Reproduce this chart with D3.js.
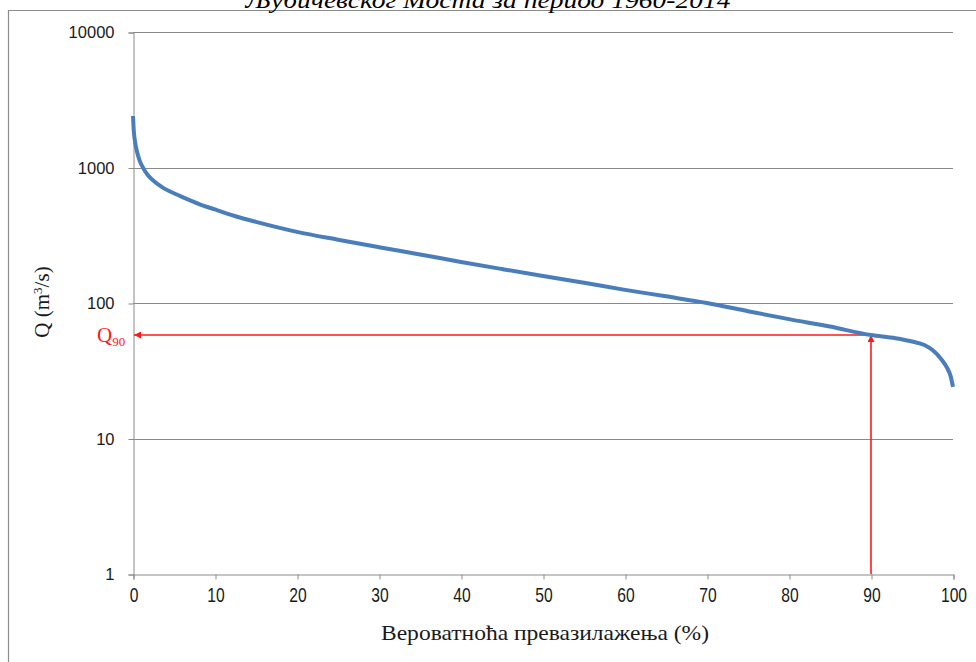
<!DOCTYPE html>
<html>
<head>
<meta charset="utf-8">
<script src="https://cdn.jsdelivr.net/npm/d3@7/dist/d3.min.js"></script>
<style>
  html, body { margin: 0; padding: 0; background: #fff; }
  svg { display: block; }
</style>
</head>
<body>
<svg id="chart" width="976" height="662"></svg>
<script>
// Flow duration curve: exceedance probability (%) vs discharge Q (m3/s)
const exceedance = [0, 0.1, 0.25, 0.5, 0.8, 1.25, 1.8, 2.5, 3.5, 5, 6.6, 8, 10, 12.5, 15, 20, 25, 30, 35, 40, 45, 50, 55, 60, 65, 70, 75, 80, 85, 90, 93, 95, 96.5, 97.5, 98.5, 99.3, 99.7, 100];
const discharge = [2400, 1850, 1550, 1300, 1130, 990, 880, 800, 720, 645, 585, 540, 490, 437, 397, 335, 293, 258, 228, 201, 178, 158, 141, 125, 112, 100, 87, 76, 67, 58, 55, 52, 49, 45, 39, 33, 29, 24];

const xTicks = [0, 10, 20, 30, 40, 50, 60, 70, 80, 90, 100];
const yTicks = [1, 10, 100, 1000, 10000];

const q90Pct = 90;
const q90Value = 58;

const titleText = "Љубичевског Моста за период 1960-2014";
const xTitle = "Вероватноћа превазилажења (%)";

const svg = d3.select("#chart");
const W = 976, H = 662;
const plot = { left: 133, right: 953, top: 32, bottom: 574 };

const x = d3.scaleLinear().domain([0, 100]).range([plot.left, plot.right]);
const y = d3.scaleLog().domain([1, 10000]).range([plot.bottom, plot.top]);

const red = "#ff1a1a";
const gridCol = "#8a8a8a";

// outer frame
svg.append("path")
  .attr("d", `M8.5,${H} L8.5,10.5 L${W},10.5`)
  .attr("fill", "none").attr("stroke", "#8c8c8c").attr("stroke-width", 1.2);

// title (its upper part runs off the top edge)
svg.append("text")
  .attr("x", 488).attr("y", 8)
  .attr("text-anchor", "middle")
  .attr("font-family", "'Liberation Serif', 'DejaVu Serif', serif")
  .attr("font-style", "italic")
  .attr("font-size", 24)
  .attr("textLength", 485).attr("lengthAdjust", "spacingAndGlyphs")
  .text(titleText);

// horizontal gridlines
svg.append("g").selectAll("line")
  .data(yTicks.filter(d => d > 1))
  .join("line")
  .attr("x1", plot.left).attr("x2", plot.right)
  .attr("y1", d => Math.round(y(d)) + 0.5).attr("y2", d => Math.round(y(d)) + 0.5)
  .attr("stroke", gridCol).attr("stroke-width", 1);

// y axis
const yAxis = d3.axisLeft(y).tickValues(yTicks).tickFormat(d3.format("d")).tickSize(5).tickPadding(14);
const gy = svg.append("g").attr("transform", `translate(${plot.left + 0.5},0.5)`).call(yAxis);
gy.select(".domain").attr("stroke", gridCol);
gy.selectAll(".tick line").attr("stroke", gridCol);
gy.selectAll(".tick text")
  .attr("font-family", "'Liberation Sans', Arial, sans-serif")
  .attr("font-size", 16.5).attr("fill", "#1a1a1a");

// x axis
const xAxis = d3.axisBottom(x).tickValues(xTicks).tickFormat(d3.format("d")).tickSize(5).tickPadding(9);
const gx = svg.append("g").attr("transform", `translate(0.5,${plot.bottom + 0.5})`).call(xAxis);
gx.select(".domain").attr("stroke", gridCol);
gx.selectAll(".tick line").attr("stroke", gridCol);
gx.selectAll(".tick text")
  .attr("font-family", "'Liberation Sans', Arial, sans-serif")
  .attr("font-size", 17).attr("fill", "#1a1a1a")
  .attr("transform", "scale(0.92,1.15)")
  .each(function () {
    // keep each label on its tick after the squeeze
    const t = d3.select(this);
    t.attr("y", +t.attr("y") / 1.15);
  });

// axis titles
svg.append("text")
  .attr("transform", `translate(49,302) rotate(-90)`)
  .attr("text-anchor", "middle")
  .attr("font-family", "'Liberation Serif', 'DejaVu Serif', serif")
  .attr("font-size", 21).attr("fill", "#1a1a1a")
  .call(t => {
    t.append("tspan").text("Q (m");
    t.append("tspan").attr("baseline-shift", "super").attr("font-size", 13).text("3");
    t.append("tspan").text("/s)");
  });

svg.append("text")
  .attr("x", 545).attr("y", 640)
  .attr("text-anchor", "middle")
  .attr("font-family", "'Liberation Serif', 'DejaVu Serif', serif")
  .attr("font-size", 22).attr("fill", "#1a1a1a")
  .attr("textLength", 328).attr("lengthAdjust", "spacingAndGlyphs")
  .text(xTitle);

// Q90 reference lines with arrowheads
const defs = svg.append("defs");
defs.append("marker")
  .attr("id", "arrow").attr("viewBox", "0 0 10 10")
  .attr("refX", 10).attr("refY", 5)
  .attr("markerWidth", 8).attr("markerHeight", 7)
  .attr("markerUnits", "userSpaceOnUse")
  .attr("orient", "auto")
  .append("path").attr("d", "M0,0 L10,5 L0,10 Z").attr("fill", red);

const qx = Math.round(x(q90Pct));
const qy = Math.round(y(q90Value));

svg.append("line")
  .attr("x1", qx).attr("y1", plot.bottom)
  .attr("x2", qx).attr("y2", qy)
  .attr("stroke", red).attr("stroke-width", 1.6)
  .attr("marker-end", "url(#arrow)");

svg.append("line")
  .attr("x1", qx).attr("y1", qy)
  .attr("x2", plot.left + 1).attr("y2", qy)
  .attr("stroke", red).attr("stroke-width", 1.6)
  .attr("marker-end", "url(#arrow)");

svg.append("text")
  .attr("x", 97).attr("y", qy + 7)
  .attr("font-family", "'Liberation Serif', 'DejaVu Serif', serif")
  .attr("font-size", 21).attr("fill", red)
  .call(t => {
    t.append("tspan").text("Q");
    t.append("tspan").attr("dy", 4).attr("font-size", 13).text("90");
  });

// duration curve
const data = exceedance.map((p, i) => ({ p, q: discharge[i] }));
const line = d3.line()
  .x(d => x(d.p))
  .y(d => y(d.q))
  .curve(d3.curveMonotoneX);

svg.append("path")
  .datum(data)
  .attr("d", line)
  .attr("fill", "none")
  .attr("stroke", "#4a7ebb")
  .attr("stroke-width", 4)
  .attr("stroke-linejoin", "round");
</script>
</body>
</html>
